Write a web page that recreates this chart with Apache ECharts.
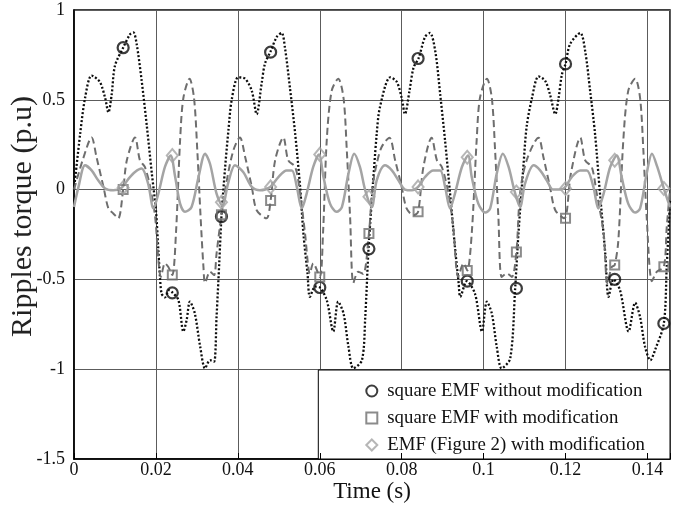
<!DOCTYPE html>
<html>
<head>
<meta charset="utf-8">
<script src="https://cdn.jsdelivr.net/npm/echarts@6/dist/echarts.min.js"></script>
<style>html,body{margin:0;padding:0;background:#fff;}#c{width:681px;height:509px;}</style>
</head>
<body>
<div id="c"></div>
<script>
// ---- Data ----
const legendNames = ['square EMF without modification', 'square EMF with modification', 'EMF (Figure 2) with modification'];
const xTicksInterval = 0.02;

// Series A: square EMF without modification (dotted black)
const tA = [0.0000,0.0015,0.0027,0.0043,0.0063,0.0076,0.0084,0.0092,0.0100,0.0120,0.0137,0.0145,0.0153,0.0165,0.0178,0.0190,0.0200,0.0206,0.0210,0.0214,0.0222,0.0232,0.0241,0.0255,0.0267,0.0275,0.0283,0.0295,0.0308,0.0320,0.0332,0.0342,0.0348,0.0355,0.0360,0.0369,0.0377,0.0385,0.0401,0.0418,0.0434,0.0446,0.0458,0.0466,0.0479,0.0495,0.0507,0.0515,0.0527,0.0540,0.0552,0.0560,0.0570,0.0576,0.0589,0.0600,0.0617,0.0633,0.0645,0.0658,0.0670,0.0682,0.0703,0.0711,0.0719,0.0727,0.0739,0.0747,0.0772,0.0788,0.0800,0.0808,0.0819,0.0829,0.0841,0.0857,0.0869,0.0882,0.0894,0.0906,0.0918,0.0930,0.0939,0.0943,0.0959,0.0979,0.0996,0.1008,0.1020,0.1032,0.1044,0.1065,0.1077,0.1085,0.1097,0.1105,0.1118,0.1134,0.1150,0.1162,0.1175,0.1183,0.1191,0.1200,0.1211,0.1236,0.1248,0.1260,0.1272,0.1284,0.1297,0.1305,0.1317,0.1333,0.1354,0.1370,0.1382,0.1394,0.1407,0.1419,0.1440,0.1447,0.1455];
const vA = [0.00,0.31,0.51,0.635,0.60,0.51,0.43,0.53,0.69,0.79,0.865,0.875,0.81,0.61,0.35,0.09,-0.115,-0.34,-0.49,-0.58,-0.60,-0.56,-0.575,-0.615,-0.79,-0.726,-0.624,-0.69,-0.874,-0.995,-0.95,-0.958,-0.71,-0.39,-0.15,0.125,0.33,0.50,0.625,0.617,0.55,0.42,0.59,0.70,0.765,0.85,0.872,0.79,0.57,0.31,0.015,-0.243,-0.465,-0.597,-0.54,-0.545,-0.615,-0.79,-0.624,-0.69,-0.874,-0.995,-0.95,-0.71,-0.33,-0.06,0.31,0.46,0.625,0.60,0.51,0.42,0.55,0.68,0.73,0.85,0.872,0.77,0.53,0.27,-0.02,-0.32,-0.52,-0.597,-0.51,-0.58,-0.79,-0.624,-0.69,-0.874,-0.995,-0.94,-0.55,-0.245,0.125,0.35,0.51,0.63,0.607,0.53,0.42,0.51,0.64,0.70,0.81,0.872,0.77,0.55,0.31,-0.02,-0.356,-0.597,-0.50,-0.56,-0.79,-0.63,-0.71,-0.874,-0.95,-0.89,-0.745,-0.43,-0.06];

// Series B: square EMF with modification (dashed gray)
const tB = [0.0000,0.0022,0.0043,0.0055,0.0072,0.0084,0.0096,0.0108,0.0120,0.0129,0.0149,0.0161,0.0173,0.0186,0.0198,0.0206,0.0212,0.0222,0.0230,0.0240,0.0249,0.0259,0.0267,0.0282,0.0293,0.0301,0.0309,0.0316,0.0320,0.0332,0.0342,0.0348,0.0360,0.0373,0.0389,0.0405,0.0418,0.0434,0.0446,0.0470,0.0480,0.0491,0.0511,0.0523,0.0540,0.0552,0.0564,0.0576,0.0584,0.0600,0.0608,0.0617,0.0629,0.0645,0.0658,0.0666,0.0674,0.0682,0.0694,0.0706,0.0720,0.0729,0.0739,0.0751,0.0770,0.0784,0.0800,0.0812,0.0829,0.0840,0.0853,0.0873,0.0886,0.0898,0.0914,0.0926,0.0938,0.0951,0.0960,0.0971,0.0983,0.0991,0.1008,0.1020,0.1028,0.1036,0.1044,0.1057,0.1069,0.1080,0.1089,0.1105,0.1134,0.1146,0.1162,0.1175,0.1197,0.1213,0.1236,0.1248,0.1264,0.1276,0.1293,0.1302,0.1313,0.1320,0.1329,0.1341,0.1353,0.1370,0.1382,0.1390,0.1398,0.1411,0.1423,0.1440,0.1447,0.1455];
const vB = [0.00,0.17,0.29,0.18,0.015,-0.105,-0.133,-0.16,0.00,0.163,0.29,0.163,0.126,0.015,-0.15,-0.39,-0.486,-0.41,-0.43,-0.476,-0.24,0.274,0.51,0.617,0.51,0.218,-0.15,-0.43,-0.52,-0.457,-0.476,-0.356,-0.14,0.05,0.218,0.29,0.18,0.015,-0.115,-0.16,-0.06,0.163,0.29,0.163,0.126,-0.02,-0.244,-0.467,-0.41,-0.486,-0.24,0.274,0.55,0.617,0.51,0.218,-0.15,-0.52,-0.457,-0.47,-0.244,0.02,0.144,0.237,0.289,0.163,0.015,-0.105,-0.143,-0.124,0.126,0.289,0.163,0.126,-0.02,-0.21,-0.486,-0.41,-0.45,-0.244,0.274,0.51,0.617,0.51,0.218,-0.15,-0.486,-0.467,-0.486,-0.347,-0.02,0.163,0.289,0.18,0.015,-0.115,-0.16,0.09,0.289,0.163,0.126,-0.02,-0.244,-0.52,-0.43,-0.42,-0.28,0.274,0.55,0.617,0.51,0.218,-0.15,-0.51,-0.457,-0.43,-0.21,0.00];

// Series C: EMF (Figure 2) with modification (solid light gray)
const tC = [0.0000,0.0011,0.0027,0.0043,0.0059,0.0076,0.0096,0.0116,0.0133,0.0149,0.0165,0.0181,0.0194,0.0206,0.0222,0.0236,0.0247,0.0259,0.0271,0.0287,0.0304,0.0320,0.0332,0.0348,0.0362,0.0377,0.0393,0.0413,0.0434,0.0454,0.0479,0.0499,0.0519,0.0532,0.0544,0.0556,0.0568,0.0584,0.0598,0.0609,0.0625,0.0641,0.0654,0.0670,0.0684,0.0698,0.0711,0.0727,0.0739,0.0759,0.0776,0.0792,0.0808,0.0825,0.0840,0.0857,0.0877,0.0894,0.0906,0.0918,0.0930,0.0947,0.0962,0.0971,0.0987,0.1004,0.1016,0.1032,0.1047,0.1061,0.1076,0.1089,0.1101,0.1122,0.1138,0.1154,0.1170,0.1195,0.1215,0.1236,0.1252,0.1268,0.1280,0.1293,0.1309,0.1325,0.1337,0.1353,0.1370,0.1382,0.1398,0.1411,0.1424,0.1440,0.1455];
const vC = [-0.097,0.015,0.135,0.107,0.052,0.006,-0.004,0.01,0.06,0.098,0.117,0.033,-0.105,-0.022,0.126,0.19,0.07,-0.078,-0.124,-0.097,0.07,0.20,0.144,-0.022,-0.09,0.042,0.135,0.098,0.015,-0.004,0.015,0.07,0.107,0.107,0.015,-0.105,-0.022,0.126,0.196,0.07,-0.078,-0.124,-0.097,0.089,0.20,0.126,-0.004,-0.097,0.052,0.135,0.107,0.052,0.00,-0.004,0.015,0.07,0.107,0.107,0.015,-0.105,-0.022,0.126,0.19,0.07,-0.078,-0.128,-0.105,0.089,0.20,0.126,-0.013,-0.097,0.033,0.135,0.107,0.052,0.00,0.006,0.07,0.107,0.107,0.015,-0.105,-0.022,0.126,0.19,0.07,-0.078,-0.128,-0.105,0.089,0.20,0.126,0.006,-0.097];

// Marker positions (every 0.012 s) and values
const markerT = [0.012,0.024,0.036,0.048,0.060,0.072,0.084,0.096,0.108,0.120,0.132,0.144];
const markA = [0.79,-0.575,-0.15,0.765,-0.545,-0.33,0.73,-0.51,-0.55,0.70,-0.50,-0.745];
const markB = [0.00,-0.476,-0.14,-0.06,-0.486,-0.244,-0.124,-0.45,-0.347,-0.16,-0.42,-0.43];
const markC = [0.01,0.19,-0.07,0.015,0.196,-0.04,0.015,0.18,-0.013,0.006,0.163,0.006];

// ---- Chart ----
const zip = (t, v) => t.map((x, i) => [x, v[i]]);
const FONT = 'Liberation Serif';
const cA = '#0d0d0d', cB = '#6e6e6e', cC = '#a4a4a4';

const chart = echarts.init(document.getElementById('c'), null, {renderer: 'canvas'});
const xBase = {
  type: 'value', min: 0, max: 0.1455, interval: xTicksInterval
};
chart.setOption({
  animation: false,
  backgroundColor: '#fff',
  textStyle: {fontFamily: FONT},
  grid: {left: 74, right: 11, top: 10, bottom: 50, outerBoundsMode: 'none', containLabel: false,
         show: true, borderColor: '#000', borderWidth: 1.5, backgroundColor: 'transparent'},
  xAxis: [
    Object.assign({}, xBase, {
      position: 'bottom',
      name: 'Time (s)', nameLocation: 'middle', nameGap: 21, nameMoveOverlap: false,
      nameTextStyle: {fontFamily: FONT, fontSize: 23, color: '#111'},
      axisLine: {show: true, onZero: false, lineStyle: {color: '#000', width: 1.5}},
      axisTick: {show: false},
      axisLabel: {fontFamily: FONT, fontSize: 18, color: '#111', margin: 2, showMaxLabel: false},
      splitLine: {show: true, lineStyle: {color: '#5c5c5c', width: 1}}
    }),
    Object.assign({}, xBase, {
      position: 'bottom', z: 10,
      axisLine: {show: false, onZero: false},
      axisTick: {show: true, inside: true, length: 6, lineStyle: {color: '#000', width: 1}},
      axisLabel: {show: false},
      splitLine: {show: false}
    })
  ],
  yAxis: {
    type: 'value', min: -1.5, max: 1, interval: 0.5,
    name: 'Ripples torque (p.u)', nameLocation: 'middle', nameGap: 36, nameMoveOverlap: false,
    nameTextStyle: {fontFamily: FONT, fontSize: 30, color: '#222', padding: [0, 0, 0, 36]},
    axisLine: {show: true, onZero: false, lineStyle: {color: '#000', width: 1.5}},
    axisTick: {show: false},
    axisLabel: {fontFamily: FONT, fontSize: 18, color: '#111', margin: 9},
    splitLine: {show: true, lineStyle: {color: '#5c5c5c', width: 1}}
  },
  legend: {
    data: [
      {name: legendNames[0], icon: 'circle'},
      {name: legendNames[1], icon: 'rect'},
      {name: legendNames[2], icon: 'diamond'}
    ],
    orient: 'vertical', right: 11, bottom: 50,
    backgroundColor: '#fff', borderColor: '#000', borderWidth: 1, borderRadius: 0,
    padding: [11, 25, 4, 47],
    itemWidth: 11, itemHeight: 11, itemGap: 7,
    selectedMode: false,
    textStyle: {fontFamily: FONT, fontSize: 18.8, color: '#111', lineHeight: 20, padding: [0, 0, 0, 5]}
  },
  series: [
    {type: 'line', name: 'lineA', data: zip(tA, vA), showSymbol: false, smooth: 0.3,
     lineStyle: {color: cA, width: 2.3, type: [2, 2]}, z: 2},
    {type: 'line', name: 'lineB', data: zip(tB, vB), showSymbol: false, smooth: 0.3,
     lineStyle: {color: cB, width: 2, type: [7, 4]}, z: 3},
    {type: 'line', name: 'lineC', data: zip(tC, vC), showSymbol: false, smooth: 0.3,
     lineStyle: {color: cC, width: 2.5}, z: 4},
    {type: 'scatter', name: legendNames[0], data: zip(markerT, markA), symbol: 'circle', symbolSize: 11,
     itemStyle: {color: 'rgba(0,0,0,0)', borderColor: cA, borderWidth: 2.2}, z: 6},
    {type: 'scatter', name: legendNames[1], data: zip(markerT, markB), symbol: 'rect', symbolSize: 9,
     itemStyle: {color: 'rgba(0,0,0,0)', borderColor: cB, borderWidth: 2}, z: 6},
    {type: 'scatter', name: legendNames[2], data: zip(markerT, markC), symbol: 'diamond', symbolSize: [11, 13],
     itemStyle: {color: 'rgba(0,0,0,0)', borderColor: cC, borderWidth: 2}, z: 6}
  ]
});
</script>
</body>
</html>
